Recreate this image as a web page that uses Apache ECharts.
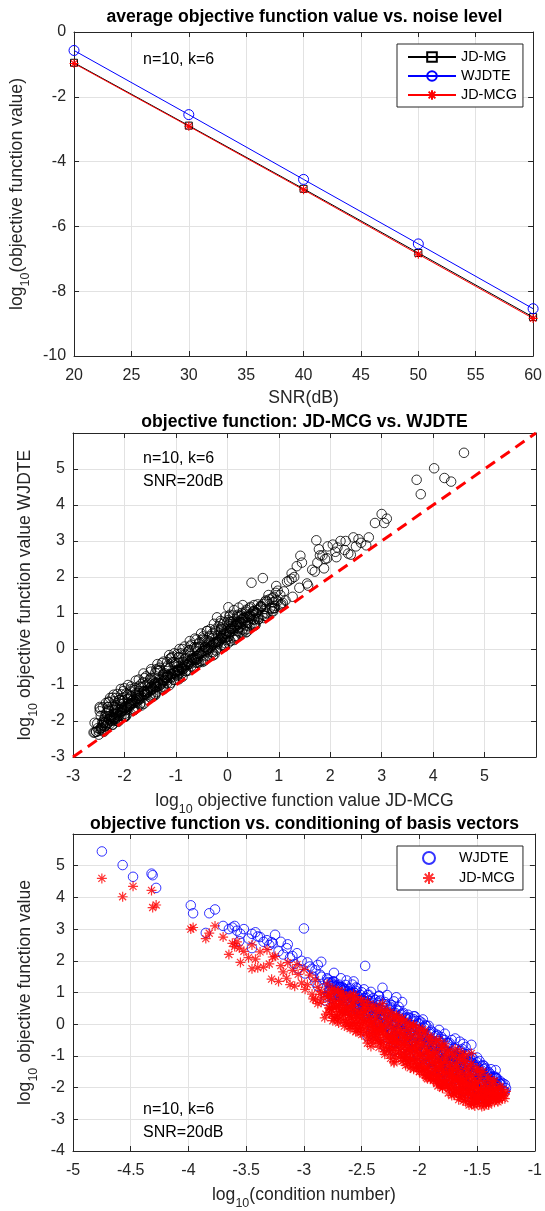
<!DOCTYPE html>
<html>
<head>
<meta charset="utf-8">
<script src="https://cdn.jsdelivr.net/npm/echarts@6/dist/echarts.min.js"></script>
<style>
html, body { margin: 0; padding: 0; background: #fff; }
#chart { width: 545px; height: 1211px; }
</style>
</head>
<body>
<div id="chart"></div>
<script>
// --- panel 1: average objective value vs. SNR ---
const snrDb = [20, 30, 40, 50, 60];
const avgJdmg = [-0.95, -2.89, -4.84, -6.82, -8.80];
const avgWjdte = [-0.57, -2.55, -4.55, -6.54, -8.54];
const avgJdmcg = [-0.97, -2.91, -4.87, -6.86, -8.84];

// --- panels 2 and 3: one entry per trial (all log10) ---
const logCond = [
  -4.75, -4.57, -4.48, -4.32, -4.31, -4.28, -3.98, -3.96, -3.82, -3.77,
  -3.85, -3.70, -3.65, -3.62, -3.60, -3.58, -3.56, -3.55, -3.52, -3.48,
  -3.45, -3.45, -3.42, -3.38, -3.35, -3.32, -3.30, -3.27, -3.28, -3.22,
  -3.20, -3.18, -3.15, -3.12, -3.10, -3.08, -3.05, -3.02, -3.00, -2.97,
  -2.95, -2.93, -2.90, -2.88, -2.85, -3.40, -3.25, -3.14, -3.06, -2.99,
  -2.41, -2.46, -2.49, -2.56, -2.59, -2.66, -2.69, -2.76, -2.79, -2.86,
  -2.30, -2.35, -2.25, -2.20, -2.48, -2.52, -2.58, -2.62, -2.68, -2.72,
  -2.78, -2.82, -2.88, -2.92, -2.42, -2.38, -2.32, -2.28, -2.18, -2.15,
  -2.57, -2.63, -2.74, -2.47, -2.85, -2.55, -2.90, -2.67, -2.05, -2.22,
  -1.55, -1.65, -1.69, -1.76, -1.81, -1.84, -1.91, -1.94, -2.01, -2.04,
  -2.11, -2.14, -2.21, -2.24, -2.31, -2.34, -2.41, -2.45, -2.30, -2.50,
  -1.88, -1.92, -1.98, -2.03, -2.08, -2.12, -2.18, -2.22, -2.28, -2.33,
  -2.38, -2.42, -2.55, -2.60, -1.78, -1.83, -1.93, -2.00, -2.07, -2.13,
  -2.17, -2.23, -2.27, -2.32, -2.37, -2.02, -1.97, -2.10, -2.25, -2.35,
  -2.15, -1.60, -1.72, -1.62, -1.60, -1.62, -1.65, -1.68, -1.70, -1.72,
  -1.74, -1.76, -1.78, -1.80, -1.82, -1.84, -1.86, -1.88, -1.90, -1.92,
  -1.94, -1.96, -1.98, -1.95, -2.02, -2.04, -2.00, -2.08, -2.10, -2.08,
  -2.14, -2.16, -2.22, -2.25, -1.66, -1.71, -1.74, -1.81, -1.85, -1.89,
  -1.58, -1.55, -1.52, -1.50, -1.60, -1.79, -1.88, -1.80, -1.97, -1.90,
  -1.85, -1.84, -1.83, -1.78, -1.73, -1.68, -1.63, -2.00, -2.05, -1.93,
  -1.87, -1.82, -1.77, -1.71, -2.12, -1.64, -2.22, -1.72, -2.00, -2.08,
  -1.26, -1.30, -1.32, -1.34, -1.40, -1.38, -1.40, -1.46, -1.44, -1.46,
  -1.48, -1.50, -1.52, -1.52, -1.54, -1.56, -1.58, -1.60, -1.62, -1.64,
  -1.66, -1.68, -1.70, -1.55, -1.74, -1.72, -1.45, -1.36, -1.35, -1.47,
  -1.55, -1.62, -1.42, -1.52, -1.58, -1.66, -1.43, -1.31, -1.57, -1.49,
  -1.53, -1.44, -1.50, -1.80, -1.95, -2.10, -2.40, -2.60, -2.70, -1.40,
  -1.65, -2.20,
  -2.81, -2.78, -2.83, -2.79, -2.80, -2.74, -2.76, -2.73, -2.77, -2.75,
  -2.71, -2.69, -2.72, -2.68, -2.70, -2.64, -2.66, -2.63, -2.65, -2.67,
  -2.61, -2.59, -2.62, -2.58, -2.60, -2.54, -2.56, -2.53, -2.57, -2.55,
  -2.51, -2.49, -2.52, -2.48, -2.50, -2.44, -2.46, -2.43, -2.47, -2.45,
  -2.41, -2.39, -2.42, -2.38, -2.40, -2.34, -2.36, -2.33, -2.37, -2.35,
  -2.31, -2.29, -2.32, -2.28, -2.30, -2.24, -2.26, -2.23, -2.27, -2.25,
  -2.21, -2.19, -2.22, -2.18, -2.20, -2.14, -2.16, -2.13, -2.17, -2.15,
  -2.11, -2.09, -2.12, -2.08, -2.10, -2.04, -2.06, -2.03, -2.07, -2.05,
  -2.01, -1.99, -2.02, -1.98, -2.00, -1.94, -1.96, -1.93, -1.97, -1.95,
  -1.91, -1.89, -1.92, -1.88, -1.90, -1.84, -1.86, -1.83, -1.87, -1.85,
  -1.81, -1.79, -1.82, -1.78, -1.80, -1.74, -1.76, -1.73, -1.77, -1.75,
  -1.71, -1.69, -1.72, -1.68, -1.70, -1.64, -1.66, -1.63, -1.67, -1.65,
  -1.61, -1.59, -1.62, -1.58, -1.60, -1.54, -1.56, -1.53, -1.57, -1.55,
  -1.51, -1.49, -1.52, -1.48, -1.50, -1.44, -1.46, -1.43, -1.47, -1.45,
  -1.41, -1.39, -1.42, -1.38, -1.40, -1.34, -1.36, -1.33, -1.37, -1.35,
  -1.31, -1.29, -1.32, -1.28, -1.30,
  -2.78, -2.77, -2.79, -2.76, -2.73, -2.72, -2.74, -2.71,
  -2.68, -2.67, -2.69, -2.66, -2.63, -2.62, -2.64, -2.61,
  -2.58, -2.57, -2.59, -2.56, -2.53, -2.52, -2.54, -2.51,
  -2.48, -2.47, -2.49, -2.46, -2.43, -2.42, -2.44, -2.41,
  -2.38, -2.37, -2.39, -2.36, -2.33, -2.32, -2.34, -2.31,
  -2.28, -2.27, -2.29, -2.26, -2.23, -2.22, -2.24, -2.21,
  -2.18, -2.17, -2.19, -2.16, -2.13, -2.12, -2.14, -2.11,
  -2.08, -2.07, -2.09, -2.06, -2.03, -2.02, -2.04, -2.01,
  -1.98, -1.97, -1.99, -1.96, -1.93, -1.92, -1.94, -1.91,
  -1.88, -1.87, -1.89, -1.86, -1.83, -1.82, -1.84, -1.81,
  -1.78, -1.77, -1.79, -1.76, -1.73, -1.72, -1.74, -1.71,
  -1.68, -1.67, -1.69, -1.66, -1.63, -1.62, -1.64, -1.61,
  -1.58, -1.57, -1.59, -1.56, -1.53, -1.52, -1.54, -1.51,
  -1.48, -1.47, -1.49, -1.46, -1.43, -1.42, -1.44, -1.41,
  -1.38, -1.37, -1.39, -1.36, -1.33, -1.32, -1.34, -1.31,
  -1.28, -1.27, -1.26, -1.25,
  -2.75, -2.76, -2.74, -2.70, -2.71, -2.69, -2.65, -2.66, -2.64,
  -2.60, -2.61, -2.59, -2.55, -2.56, -2.54, -2.50, -2.51, -2.49,
  -2.45, -2.46, -2.44, -2.40, -2.41, -2.39, -2.35, -2.36, -2.34,
  -2.30, -2.31, -2.29, -2.25, -2.26, -2.24, -2.20, -2.21, -2.19,
  -2.15, -2.16, -2.14, -2.10, -2.11, -2.09, -2.05, -2.06, -2.04,
  -2.00, -2.01, -1.99, -1.95, -1.96, -1.94, -1.90, -1.91, -1.89,
  -1.85, -1.86, -1.84, -1.80, -1.81, -1.79, -1.75, -1.76, -1.74,
  -1.70, -1.71, -1.69, -1.65, -1.66, -1.64, -1.60, -1.61, -1.59,
  -1.55, -1.56, -1.54, -1.50, -1.51, -1.49, -1.45, -1.46, -1.44,
  -1.40, -1.41, -1.39, -1.35, -1.36, -1.34
];
const logJdmcg = [
  4.60, 4.02, 4.35, 4.22, 3.68, 3.76, 3.00, 3.05, 2.87, 3.10,
  2.70, 2.75, 2.20, 2.55, 2.45, 2.60, 2.40, 1.95, 2.30, 2.10,
  2.50, 1.75, 2.05, 2.28, 1.80, 2.35, 1.90, 2.12, 1.42, 1.35,
  1.85, 1.65, 1.45, 1.25, 1.70, 1.20, 1.57, 1.30, 1.73, 1.25,
  1.55, 0.95, 1.40, 1.16, 1.03, 1.78, 2.14, 1.94, 1.88, 1.10,
  0.07, 0.13, 0.27, 0.33, 0.48, 0.52, 0.66, 0.73, 0.87, 0.94,
  0.20, 0.40, 0.10, 0.30, 0.60, 0.05, 0.70, 0.15, 0.90, 0.30,
  0.50, 0.20, 0.65, 0.80, 0.50, 0.00, 0.65, 0.45, 0.08, 0.18,
  0.95, 0.82, 0.98, 0.47, 0.69, 0.02, 0.77, 0.38, -0.02, 0.25,
  -0.92, -0.85, -0.78, -0.95, -0.70, -0.88, -0.60, -0.80, -0.55, -0.72,
  -0.45, -0.65, -0.35, -0.58, -0.25, -0.50, -0.15, -0.60, -0.95, -0.05,
  -0.98, -0.40, -0.68, -0.30, -0.88, -0.20, -0.75, -0.10, -0.48, -0.02,
  -0.32, -0.70, -0.22, -0.08, -0.62, -0.50, -0.90, -0.38, -0.58, -0.85,
  -0.28, -0.62, -0.82, -0.12, -0.42, -0.95, -0.18, -0.10, -0.40, -0.20,
  -0.38, -0.98, -0.90, -0.96, -1.95, -1.80, -1.90, -1.70, -1.98, -1.85,
  -1.60, -1.92, -1.75, -1.50, -1.88, -1.65, -1.40, -1.78, -1.55, -1.30,
  -1.68, -1.45, -1.20, -1.60, -1.35, -1.10, -1.50, -1.25, -1.05, -1.38,
  -1.15, -1.02, -1.22, -1.08, -1.55, -1.43, -1.36, -1.24, -1.16, -1.04,
  -1.72, -1.60, -1.85, -1.48, -1.40, -1.88, -1.75, -1.95, -1.58, -1.70,
  -1.82, -1.95, -1.62, -1.10, -1.22, -1.30, -1.12, -1.00, -1.42, -1.72,
  -1.48, -1.32, -1.88, -1.62, -1.30, -1.98, -1.18, -1.80, -1.36, -1.11,
  -2.35, -2.20, -2.45, -2.05, -2.55, -2.30, -2.10, -2.60, -2.40, -2.25,
  -2.50, -2.15, -2.58, -2.35, -2.00, -2.45, -2.20, -2.45, -2.05, -2.30,
  -2.38, -2.12, -2.19, -2.52, -2.02, -2.25, -2.28, -2.38, -2.15, -2.05,
  -2.18, -2.42, -2.48, -2.28, -2.08, -2.18, -2.22, -2.32, -2.55, -2.42,
  -2.53, -2.58, -2.40, -2.00, -1.40, -0.80, -0.30, 0.30, 0.60, -2.50,
  -1.75, -0.55,
  0.32, 0.52, 0.83, 0.98, 1.27, 0.18, 0.47, 0.66, 0.92, 1.13,
  0.10, 0.40, 0.56, 0.87, 1.05, 0.04, 0.28, 0.52, 0.73, 1.02,
  -0.07, 0.22, 0.43, 0.68, 0.91, -0.13, 0.10, 0.37, 0.56, 0.87,
  -0.27, 0.07, 0.26, 0.52, 0.76, -0.36, -0.10, 0.18, 0.40, 0.72,
  -0.52, -0.18, 0.03, 0.34, 0.60, -0.60, -0.32, -0.03, 0.20, 0.54,
  -0.77, -0.40, -0.17, 0.14, 0.43, -0.83, -0.54, -0.23, 0.01, 0.38,
  -0.97, -0.60, -0.37, -0.04, 0.24, -1.03, -0.74, -0.43, -0.17, 0.15,
  -1.17, -0.80, -0.57, -0.23, 0.06, -1.24, -0.94, -0.63, -0.37, -0.04,
  -1.39, -1.00, -0.77, -0.43, -0.12, -1.47, -1.17, -0.86, -0.60, -0.22,
  -1.62, -1.25, -1.02, -0.68, -0.40, -1.73, -1.44, -1.13, -0.87, -0.51,
  -1.92, -1.55, -1.32, -0.98, -0.70, -2.03, -1.74, -1.43, -1.17, -0.81,
  -2.14, -1.78, -1.56, -1.23, -0.97, -2.17, -1.90, -1.60, -1.37, -1.03,
  -2.27, -1.93, -1.72, -1.42, -1.17, -2.30, -2.05, -1.77, -1.56, -1.24,
  -2.40, -2.08, -1.89, -1.61, -1.38, -2.38, -2.17, -1.94, -1.77, -1.49,
  -2.43, -2.18, -2.06, -1.84, -1.69, -2.38, -2.26, -2.09, -1.99, -1.80,
  -2.40, -2.25, -2.20, -2.06, -1.98,
  0.37, 0.58, 0.88, 1.08, 0.24, 0.53, 0.75, 1.04,
  0.20, 0.41, 0.71, 0.92, 0.06, 0.36, 0.59, 0.89,
  0.02, 0.24, 0.55, 0.78, -0.11, 0.20, 0.43, 0.74,
  -0.17, 0.06, 0.38, 0.61, -0.30, -0.05, 0.27, 0.52,
  -0.47, -0.13, 0.13, 0.47, -0.55, -0.28, 0.07, 0.34,
  -0.70, -0.34, -0.07, 0.29, -0.76, -0.48, -0.12, 0.16,
  -0.90, -0.53, -0.25, 0.12, -0.95, -0.67, -0.30, 0.02,
  -1.09, -0.72, -0.44, -0.07, -1.16, -0.87, -0.49, -0.20,
  -1.32, -0.95, -0.65, -0.28, -1.40, -1.12, -0.75, -0.47,
  -1.58, -1.22, -0.94, -0.58, -1.68, -1.40, -1.04, -0.76,
  -1.88, -1.52, -1.24, -0.88, -1.94, -1.67, -1.31, -1.04,
  -2.06, -1.71, -1.45, -1.10, -2.09, -1.83, -1.50, -1.24,
  -2.19, -1.87, -1.62, -1.30, -2.23, -1.99, -1.68, -1.44,
  -2.32, -2.02, -1.81, -1.51, -2.30, -2.13, -1.87, -1.70,
  -2.36, -2.14, -2.01, -1.79, -2.33, -2.23, -2.06, -1.96,
  -2.34, -2.24, -2.20, -2.12,
  0.11, 0.30, 0.52, 0.04, 0.22, 0.45, -0.06, 0.13, 0.36,
  -0.14, 0.05, 0.28, -0.24, -0.04, 0.19, -0.33, -0.13, 0.11,
  -0.47, -0.26, 0.00, -0.60, -0.39, -0.12, -0.73, -0.51, -0.23,
  -0.87, -0.63, -0.35, -0.97, -0.73, -0.44, -1.07, -0.83, -0.54,
  -1.17, -0.93, -0.64, -1.27, -1.03, -0.74, -1.38, -1.13, -0.83,
  -1.49, -1.24, -0.94, -1.61, -1.36, -1.07, -1.72, -1.48, -1.19,
  -1.87, -1.63, -1.34, -2.02, -1.78, -1.49, -2.17, -1.93, -1.64,
  -2.23, -2.00, -1.72, -2.30, -2.07, -1.80, -2.36, -2.14, -1.88,
  -2.42, -2.21, -1.96, -2.48, -2.28, -2.04, -2.48, -2.31, -2.10,
  -2.48, -2.33, -2.16, -2.46, -2.34, -2.20
];
const logWjdte = [
  5.45, 5.02, 4.65, 4.75, 4.70, 4.30, 3.75, 3.50, 3.50, 3.62,
  2.88, 3.10, 3.00, 3.05, 3.10, 2.95, 2.62, 2.85, 3.00, 2.70,
  2.85, 2.40, 2.90, 2.75, 2.60, 2.65, 2.50, 2.55, 2.59, 2.30,
  2.60, 2.20, 2.40, 2.10, 2.15, 1.90, 1.76, 2.00, 3.02, 1.95,
  1.82, 1.75, 1.70, 1.87, 1.50, 2.77, 2.82, 2.52, 2.24, 1.60,
  0.55, 0.63, 0.74, 0.86, 0.97, 1.06, 1.18, 1.31, 1.41, 1.56,
  0.70, 0.90, 0.62, 0.85, 1.10, 0.45, 1.25, 0.65, 1.45, 0.80,
  1.05, 0.75, 1.20, 1.50, 1.02, 0.48, 1.15, 0.92, 0.55, 0.70,
  1.35, 1.38, 1.62, 1.84, 1.97, 1.16, 1.32, 0.90, 0.25, 0.72,
  -0.65, -0.55, -0.45, -0.60, -0.40, -0.52, -0.25, -0.42, -0.15, -0.35,
  -0.05, -0.28, 0.05, -0.18, 0.15, -0.10, 0.25, -0.38, -0.70, 0.30,
  -0.62, -0.05, -0.32, 0.10, -0.55, 0.20, -0.40, 0.35, -0.05, 0.42,
  0.08, -0.30, 0.18, 0.38, -0.30, -0.18, -0.55, 0.02, -0.20, -0.48,
  0.12, -0.25, -0.45, 0.30, -0.02, -0.58, 0.15, 0.30, 0.50, 0.88,
  0.00, -0.72, -0.50, -0.62, -1.60, -1.45, -1.55, -1.35, -1.70, -1.50,
  -1.25, -1.60, -1.30, -1.10, -1.55, -1.35, -1.05, -1.40, -1.20, -0.95,
  -1.30, -1.10, -0.80, -1.25, -0.95, -0.70, -1.15, -0.90, -0.60, -1.05,
  -0.75, -0.65, -0.85, -0.70, -1.15, -1.02, -0.93, -0.86, -0.74, -0.66,
  -1.30, -1.20, -1.45, -1.05, -0.95, -1.52, -1.45, -1.62, -1.28, -1.40,
  -1.50, -1.68, -1.18, -0.80, -0.88, -1.00, -0.78, -0.68, -0.98, -1.40,
  -1.15, -1.02, -1.52, -1.28, -0.98, -1.58, -0.80, -1.14, -0.59, -0.26,
  -2.12, -1.80, -2.20, -1.45, -2.30, -1.95, -1.85, -2.32, -2.05, -1.90,
  -2.28, -1.78, -2.05, -2.00, -1.65, -2.18, -1.92, -2.25, -1.72, -1.95,
  -2.15, -1.85, -1.61, -2.20, -1.70, -2.00, -2.08, -2.15, -1.90, -1.60,
  -1.95, -2.10, -2.22, -1.85, -1.75, -1.98, -1.98, -2.05, -2.30, -2.12,
  -2.07, -2.32, -2.30, -1.88, -1.25, -0.62, -0.08, 0.55, 0.88, -2.38,
  -1.62, -0.38,
  0.87, 0.94, 1.13, 1.33, 1.45, 0.66, 0.83, 1.18, 1.20, 1.35,
  0.70, 0.73, 1.01, 1.12, 1.25, 0.46, 0.83, 0.82, 1.11, 1.18,
  0.43, 0.57, 0.91, 0.95, 1.13, 0.49, 0.50, 0.65, 1.01, 1.05,
  0.18, 0.59, 0.61, 0.82, 1.01, 0.22, 0.28, 0.64, 0.73, 0.92,
  -0.12, 0.37, 0.35, 0.76, 0.82, 0.05, 0.03, 0.45, 0.50, 0.72,
  -0.35, 0.18, 0.19, 0.58, 0.63, -0.28, -0.14, 0.29, 0.34, 0.55,
  -0.59, 0.02, -0.02, 0.42, 0.46, -0.43, -0.41, 0.07, 0.21, 0.33,
  -0.72, -0.25, -0.27, 0.19, 0.22, -0.72, -0.58, -0.05, -0.09, 0.16,
  -0.99, -0.40, -0.44, 0.05, 0.10, -0.85, -0.79, -0.36, -0.30, -0.04,
  -1.17, -0.70, -0.67, -0.26, -0.20, -1.23, -1.10, -0.53, -0.57, -0.33,
  -1.50, -0.97, -0.96, -0.50, -0.48, -1.43, -1.36, -0.91, -0.87, -0.61,
  -1.74, -1.23, -1.22, -0.78, -0.75, -1.65, -1.54, -1.02, -1.05, -0.85,
  -1.89, -1.38, -1.37, -0.95, -0.95, -1.72, -1.72, -1.27, -1.18, -1.04,
  -1.98, -1.53, -1.59, -1.16, -1.20, -1.88, -1.82, -1.39, -1.49, -1.29,
  -2.03, -1.66, -1.76, -1.42, -1.51, -1.93, -1.98, -1.70, -1.80, -1.68,
  -2.05, -1.90, -1.95, -1.86, -1.88,
  1.09, 1.08, 1.30, 1.28, 0.92, 0.65, 1.35, 1.22,
  0.95, 0.96, 0.86, 1.14, 0.76, 0.46, 1.24, 1.04,
  0.80, 0.76, 0.67, 0.98, 0.55, 0.34, 1.13, 0.92,
  0.63, 0.64, 0.48, 0.83, 0.42, 0.07, 0.93, 0.68,
  0.29, 0.43, 0.25, 0.67, 0.15, -0.18, 0.75, 0.52,
  0.12, 0.20, 0.07, 0.45, -0.08, -0.36, 0.60, 0.36,
  -0.12, 0.05, -0.15, 0.30, -0.23, -0.53, 0.36, 0.17,
  -0.25, -0.20, -0.32, 0.11, -0.46, -0.77, 0.25, 0.02,
  -0.52, -0.39, -0.51, -0.10, -0.66, -1.00, -0.05, -0.31,
  -0.76, -0.67, -0.84, -0.38, -0.98, -1.28, -0.36, -0.60,
  -1.12, -0.94, -1.12, -0.68, -1.28, -1.57, -0.59, -0.86,
  -1.26, -1.17, -1.33, -0.94, -1.41, -1.71, -0.84, -1.06,
  -1.45, -1.31, -1.52, -1.10, -1.57, -1.87, -1.06, -1.28,
  -1.62, -1.52, -1.69, -1.33, -1.68, -2.01, -1.32, -1.55,
  -1.78, -1.69, -1.89, -1.64, -1.88, -2.11, -1.66, -1.84,
  -2.09, -2.10, -1.90, -2.02,
  0.93, 1.22, 1.22, 0.90, 1.15, 1.17, 0.74, 1.08, 1.04,
  0.71, 0.95, 1.00, 0.54, 0.90, 0.89, 0.55, 0.78, 0.77,
  0.35, 0.70, 0.74, 0.26, 0.50, 0.56, 0.07, 0.43, 0.49,
  0.00, 0.29, 0.35, -0.14, 0.22, 0.23, -0.22, 0.07, 0.19,
  -0.36, 0.00, 0.05, -0.39, -0.12, -0.03, -0.56, -0.17, -0.15,
  -0.63, -0.35, -0.22, -0.81, -0.42, -0.37, -0.85, -0.56, -0.52,
  -1.04, -0.68, -0.61, -1.17, -0.88, -0.80, -1.36, -1.00, -0.93,
  -1.35, -1.09, -1.04, -1.48, -1.11, -1.08, -1.50, -1.25, -1.18,
  -1.62, -1.27, -1.23, -1.61, -1.36, -1.37, -1.65, -1.46, -1.42,
  -1.73, -1.61, -1.56, -1.86, -1.79, -1.70
];
const diagLine = [-3, 6];

const FONT = '"Liberation Sans", Arial, Helvetica, sans-serif';
const AX = '#262626';
const GRID_C = '#e2e2e2';
const ASTERISK = 'path://M10,0L10,20M0,10L20,10M3,3L17,17M3,17L17,3';

const nameRich = {
  n: { fontSize: 17.6, color: AX, fontFamily: FONT, padding: [0, 0, 6, 0], verticalAlign: 'bottom' },
  s: { fontSize: 12.5, color: AX, fontFamily: FONT, verticalAlign: 'bottom' }
};

const hideSix = v => (v === 6 ? '' : String(v));

function axis(gridIndex, position, min, max, interval, extra) {
  const main = position === 'bottom' || position === 'left';
  const horizontal = position === 'bottom' || position === 'top';
  return Object.assign({
    type: 'value',
    gridIndex,
    position,
    min,
    max,
    interval,
    axisLine: { show: true, onZero: false, lineStyle: { color: AX, width: 1 } },
    axisTick: { show: true, inside: true, length: 5, lineStyle: { color: AX, width: 1 } },
    axisLabel: { show: main, color: AX, fontSize: 16, fontFamily: FONT, margin: horizontal ? 12 : 8, formatter: hideSix },
    splitLine: { show: main, lineStyle: { color: GRID_C, width: 1 } },
    nameLocation: 'middle',
    nameTextStyle: { rich: nameRich, color: AX, fontFamily: FONT, fontSize: 17.6 }
  }, extra || {});
}

function label(text, x, y, font, align) {
  return {
    type: 'text', x, y, z: 100,
    style: {
      text, font, fill: '#000',
      textAlign: align, align,
      textVerticalAlign: 'middle', verticalAlign: 'middle'
    }
  };
}

const chart = echarts.init(document.getElementById('chart'), null, { renderer: 'canvas' });

const titleFont = 'bold 17.6px ' + FONT;
const noteFont = '16px ' + FONT;

chart.setOption({
  animation: false,
  backgroundColor: '#fff',
  grid: [
    { left: 73, right: 9, top: 32, height: 324 },
    { left: 73, right: 9, top: 433, height: 324 },
    { left: 73, right: 9, top: 834, height: 324 }
  ],
  xAxis: [
    axis(0, 'bottom', 20, 60, 5, { name: 'SNR(dB)', nameGap: 33 }),
    axis(0, 'top', 20, 60, 5),
    axis(1, 'bottom', -3, 6, 1, { name: '{n|log}{s|10}{n| objective function value JD-MCG}', nameGap: 35 }),
    axis(1, 'top', -3, 6, 1),
    axis(2, 'bottom', -5, -1, 0.5, { name: '{n|log}{s|10}{n|(condition number)}', nameGap: 35 }),
    axis(2, 'top', -5, -1, 0.5)
  ],
  yAxis: [
    axis(0, 'left', -10, 0, 2, { name: '{n|log}{s|10}{n|(objective function value)}', nameGap: 36 }),
    axis(0, 'right', -10, 0, 2),
    axis(1, 'left', -3, 6, 1, { name: '{n|log}{s|10}{n| objective function value WJDTE}', nameGap: 21 }),
    axis(1, 'right', -3, 6, 1),
    axis(2, 'left', -4, 6, 1, { name: '{n|log}{s|10}{n| objective function value}', nameGap: 21 }),
    axis(2, 'right', -4, 6, 1)
  ],
  legend: [
    {
      data: ['JD-MG', 'WJDTE', 'JD-MCG'],
      orient: 'vertical',
      left: 397, top: 44,
      itemWidth: 48, itemHeight: 12, itemGap: 5,
      padding: [6, 6, 5, 10],
      backgroundColor: '#fff',
      borderColor: AX, borderWidth: 1, borderRadius: 0,
      textStyle: { color: '#000', fontSize: 14.4, fontFamily: FONT },
      selectedMode: false
    },
    {
      data: ['WJDTE ', 'JD-MCG '],
      orient: 'vertical',
      left: 397, top: 846,
      itemWidth: 50, itemHeight: 12, itemGap: 6,
      padding: [5, 8, 5, 25],
      backgroundColor: '#fff',
      borderColor: AX, borderWidth: 1, borderRadius: 0,
      textStyle: { color: '#000', fontSize: 14.4, fontFamily: FONT },
      formatter: name => name.trim(),
      selectedMode: false
    }
  ],
  graphic: [
    label('average objective function value vs. noise level', 304.5, 17, titleFont, 'center'),
    label('objective function: JD-MCG vs. WJDTE', 304.5, 422, titleFont, 'center'),
    label('objective function vs. conditioning of basis vectors', 304.5, 824, titleFont, 'center'),
    label('n=10, k=6', 143, 60, noteFont, 'left'),
    label('n=10, k=6', 143, 459, noteFont, 'left'),
    label('SNR=20dB', 143, 482, noteFont, 'left'),
    label('n=10, k=6', 143, 1110, noteFont, 'left'),
    label('SNR=20dB', 143, 1133, noteFont, 'left')
  ],
  series: [
    {
      name: 'JD-MG', type: 'line', xAxisIndex: 0, yAxisIndex: 0,
      data: snrDb.map((x, i) => [x, avgJdmg[i]]),
      symbol: 'rect', symbolSize: 7,
      itemStyle: { color: 'rgba(0,0,0,0)', borderColor: '#000', borderWidth: 1 },
      lineStyle: { color: '#000', width: 1 }
    },
    {
      name: 'WJDTE', type: 'line', xAxisIndex: 0, yAxisIndex: 0,
      data: snrDb.map((x, i) => [x, avgWjdte[i]]),
      symbol: 'circle', symbolSize: 10,
      itemStyle: { color: 'rgba(0,0,0,0)', borderColor: '#0000ff', borderWidth: 1 },
      lineStyle: { color: '#0000ff', width: 1 }
    },
    {
      name: 'JD-MCG', type: 'line', xAxisIndex: 0, yAxisIndex: 0,
      data: snrDb.map((x, i) => [x, avgJdmcg[i]]),
      symbol: ASTERISK, symbolSize: 9,
      itemStyle: { color: 'rgba(0,0,0,0)', borderColor: '#ff0000', borderWidth: 1.1 },
      lineStyle: { color: '#ff0000', width: 1 }
    },
    {
      name: 'pairs', type: 'scatter', xAxisIndex: 2, yAxisIndex: 2,
      data: logJdmcg.map((a, i) => [a, logWjdte[i]]),
      symbol: 'circle', symbolSize: 9.5,
      itemStyle: { color: 'rgba(0,0,0,0)', borderColor: '#000', borderWidth: 1 }
    },
    {
      name: 'diag', type: 'line', xAxisIndex: 2, yAxisIndex: 2,
      data: diagLine.map(v => [v, v]),
      symbol: 'none',
      lineStyle: { color: '#ff0000', width: 3, type: [11, 7] },
      z: 3
    },
    {
      name: 'WJDTE ', type: 'scatter', xAxisIndex: 4, yAxisIndex: 4,
      data: logCond.map((c, i) => [c, logWjdte[i]]),
      symbol: 'circle', symbolSize: 9.5,
      itemStyle: { color: 'rgba(0,0,0,0)', borderColor: '#0000ff', borderWidth: 1 }
    },
    {
      name: 'JD-MCG ', type: 'scatter', xAxisIndex: 4, yAxisIndex: 4,
      data: logCond.map((c, i) => [c, logJdmcg[i]]),
      symbol: ASTERISK, symbolSize: 10,
      itemStyle: { color: 'rgba(0,0,0,0)', borderColor: '#ff0000', borderWidth: 1.2 }
    }
  ]
});
</script>
</body>
</html>
